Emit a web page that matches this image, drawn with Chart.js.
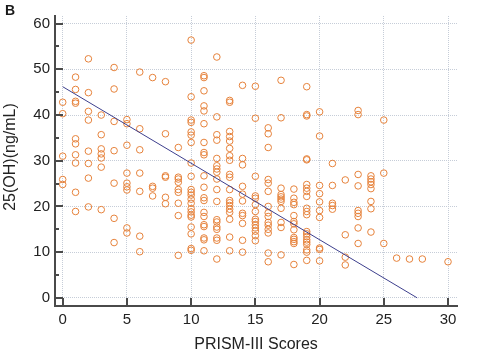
<!DOCTYPE html>
<html>
<head>
<meta charset="utf-8">
<script src="https://cdn.jsdelivr.net/npm/chart.js@4"></script>
<style>
html,body{margin:0;padding:0;background:#ffffff;}
#c{display:block;}
</style>
</head>
<body>
<canvas id="c" width="479" height="357"></canvas>
<script>
// ---- data ----
const prismScores = [0,1,2,3,4,5,6,7,8,9,10,11,12,13,14,15,16,17,18,19,20,21,22,23,24,25,26,27,28,29,30];
const vitaminD = [
  [42.8,40.3,31.0,25.9,24.8],
  [48.3,45.6,43.0,42.6,34.8,33.7,31.3,29.5,23.1,18.9],
  [52.3,44.9,40.8,38.9,32.1,29.4,26.2,19.9],
  [40.0,35.7,32.6,31.5,30.6,28.6,19.3],
  [50.4,45.7,38.6,32.2,25.1,17.4,12.1],
  [39.0,38.1,33.4,27.3,25.1,24.3,23.6,15.3,14.2],
  [49.4,37.0,32.4,27.3,23.3,13.5,10.1],
  [48.2,24.4,24.0,22.3],
  [47.3,35.9,26.7,26.4,22.0,20.6],
  [32.9,26.4,26.0,25.3,23.7,23.1,20.7,18.0,9.3],
  [56.4,44.0,38.9,38.4,36.3,35.6,34.0,29.5,26.6,23.7,23.1,22.5,21.6,20.7,19.5,18.8,18.1,17.7,15.5,14.0,10.8,10.4],
  [48.6,48.2,45.3,42.0,40.9,38.1,34.0,31.8,31.3,26.7,24.2,21.9,21.3,18.7,17.8,16.0,15.6,13.1,12.7,10.3],
  [52.7,39.6,35.7,34.5,30.5,28.9,28.2,27.5,26.0,23.7,21.1,17.1,16.6,15.5,15.0,13.1,12.6,8.5],
  [43.2,42.8,36.4,35.3,34.3,32.7,31.1,30.1,27.0,26.4,23.7,21.3,20.8,20.2,19.4,18.7,17.2,13.3,10.3],
  [46.5,30.5,29.1,24.4,22.7,21.2,18.5,18.0,16.3,12.6,10.0],
  [46.3,39.3,26.6,22.3,21.8,20.4,18.9,17.2,16.7,16.0,15.3,14.6,13.6,12.5],
  [37.2,35.9,32.9,25.9,25.1,23.3,20.0,18.6,17.8,16.5,15.9,15.0,14.2,9.8,7.9],
  [47.6,39.4,24.0,22.6,22.1,21.6,21.1,19.6,16.5,15.4,9.4],
  [23.8,21.8,20.9,20.4,18.0,16.7,16.2,14.9,13.2,12.8,12.3,11.9,7.3],
  [46.2,40.1,39.8,30.4,30.2,24.8,24.0,23.3,22.2,19.6,18.9,18.2,14.5,14.0,13.4,12.7,12.2,11.7,10.5,10.0,8.2],
  [40.7,35.4,24.6,22.8,21.0,19.1,17.6,10.9,10.6,8.1],
  [29.4,24.6,20.7,20.2,19.4],
  [25.8,13.8,8.9,7.2],
  [41.0,40.1,27.0,24.5,19.1,18.5,17.8,15.3,11.9],
  [26.7,26.0,25.4,24.8,23.9,21.1,19.5,14.4],
  [38.9,27.3,11.9],
  [8.7],
  [8.5],
  [8.5],
  [],
  [7.9]
];
const fitX = [0, 27.6];
const fitY = [46.2, 0];
const xTicks = [0,5,10,15,20,25,30];
const yTicks = [0,10,20,30,40,50,60];
const yMinorTicks = [5,15,25,35,45,55];
const panelLabel = 'B';
const xTitle = 'PRISM-III Scores';
const yTitle = '25(OH)(ng/mL)';

// ---- build datasets ----
const scatterPoints = [];
prismScores.forEach((s, i) => {
  (vitaminD[i] || []).forEach(v => scatterPoints.push({x: s, y: v}));
});
const fitPoints = fitX.map((v, i) => ({x: v, y: fitY[i]}));

const FONT = '"Liberation Sans", Arial, Helvetica, sans-serif';
const AXIS_COLOR = '#4a4a4a';
const GRID_COLOR = '#c6cdd8';

const decor = {
  id: 'decor',
  afterDraw(chart) {
    const {ctx, chartArea: a} = chart;
    const xs = chart.scales.x, ys = chart.scales.y;
    ctx.save();
    ctx.strokeStyle = AXIS_COLOR;
    ctx.lineWidth = 2;
    ctx.beginPath();
    xTicks.forEach(v => {
      const px = Math.round(xs.getPixelForValue(v));
      ctx.moveTo(px, a.bottom);
      ctx.lineTo(px, a.bottom - 8);
    });
    yTicks.forEach(v => {
      const py = Math.round(ys.getPixelForValue(v));
      ctx.moveTo(a.left, py);
      ctx.lineTo(a.left + 8, py);
    });
    yMinorTicks.forEach(v => {
      const py = Math.round(ys.getPixelForValue(v));
      ctx.moveTo(a.left, py);
      ctx.lineTo(a.left + 4, py);
    });
    ctx.stroke();

    ctx.fillStyle = '#1a1a1a';
    ctx.font = 'bold 14px ' + FONT;
    ctx.textAlign = 'left';
    ctx.textBaseline = 'alphabetic';
    ctx.fillText(panelLabel, 5, 15);

    ctx.translate(11, 157);
    ctx.rotate(-Math.PI / 2);
    ctx.font = '16px ' + FONT;
    ctx.textAlign = 'center';
    ctx.textBaseline = 'middle';
    ctx.fillStyle = '#222';
    ctx.fillText(yTitle, 0, 0);
    ctx.restore();
  }
};

new Chart(document.getElementById('c'), {
  data: {
    datasets: [
      {
        type: 'scatter',
        data: scatterPoints,
        pointStyle: 'circle',
        pointRadius: 3.3,
        pointHoverRadius: 3.3,
        pointBorderWidth: 1,
        pointBorderColor: '#e6823b',
        pointBackgroundColor: 'rgba(255,255,255,0)',
        showLine: false,
        order: 2
      },
      {
        type: 'line',
        data: fitPoints,
        borderColor: '#3d3f8d',
        borderWidth: 1,
        pointRadius: 0,
        fill: false,
        tension: 0,
        order: 1
      }
    ]
  },
  options: {
    responsive: false,
    animation: false,
    devicePixelRatio: 1,
    layout: {padding: {top: 16, right: 22, left: 0, bottom: 0}},
    plugins: {legend: {display: false}, tooltip: {enabled: false}, title: {display: false}},
    scales: {
      x: {
        type: 'linear',
        position: 'bottom',
        min: -0.6,
        max: 30.7,
        afterBuildTicks: s => { s.ticks = xTicks.map(v => ({value: v})); },
        afterFit: s => { s.height = 51; },
        ticks: {font: {family: FONT, size: 15}, color: '#222', padding: 5, maxRotation: 0, autoSkip: false},
        grid: {color: GRID_COLOR, lineWidth: 1, drawTicks: false},
        border: {display: true, color: AXIS_COLOR, width: 2, dash: [1, 1]},
        title: {display: true, text: xTitle, font: {family: FONT, size: 16}, color: '#222', padding: {top: 0, bottom: 3}}
      },
      y: {
        type: 'linear',
        position: 'left',
        min: -1.78,
        max: 61.67,
        afterBuildTicks: s => { s.ticks = yTicks.map(v => ({value: v})); },
        afterFit: s => { s.width = 55; },
        ticks: {font: {family: FONT, size: 15}, color: '#222', padding: 5, autoSkip: false},
        grid: {color: GRID_COLOR, lineWidth: 1, drawTicks: false},
        border: {display: true, color: AXIS_COLOR, width: 2, dash: [1, 1]},
        title: {display: false}
      }
    }
  },
  plugins: [decor]
});
</script>
</body>
</html>
